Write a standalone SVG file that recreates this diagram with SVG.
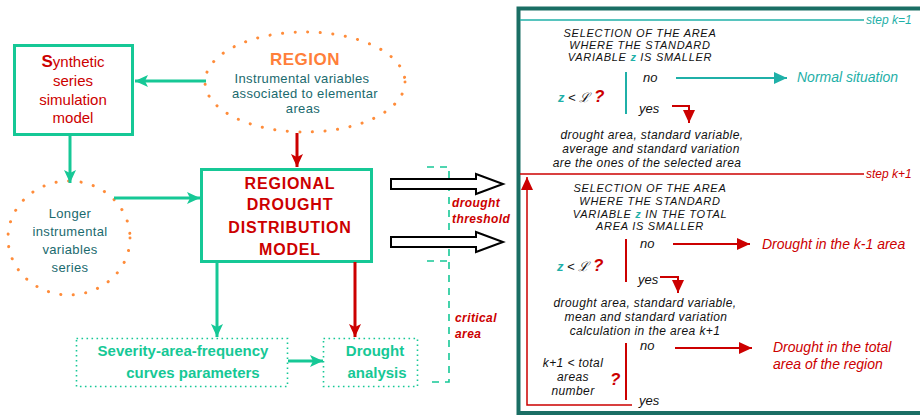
<svg xmlns="http://www.w3.org/2000/svg" width="920" height="418" viewBox="0 0 920 418">
<style>
text{font-family:"Liberation Sans",Arial,sans-serif}
.tl{stroke:#16c896;stroke-width:3;fill:none}
.rd{stroke:#cc0000;stroke-width:3;fill:none}
.dotor{stroke:#ff8c3a;stroke-width:3;fill:none;stroke-dasharray:0.1 12.5;stroke-linecap:round}
.dotbox{stroke:#16c896;stroke-width:1.6;fill:none;stroke-dasharray:1.6 3.4}
.dash{stroke:#16c896;stroke-width:1.6;fill:none;stroke-dasharray:7 6}
.rtxt{fill:#cc0000;font-size:15px;text-anchor:middle}
.dtxt{fill:#1a6a6e;font-size:13px;text-anchor:middle;letter-spacing:0.35px}
.big{fill:#cc0000;font-size:16px;font-weight:bold;text-anchor:middle;letter-spacing:0.8px}
.gtxt{fill:#16c896;font-size:15px;font-weight:bold;text-anchor:middle}
.smr{fill:#cc0000;font-size:12px;font-weight:bold;font-style:italic;letter-spacing:0.4px}
.cap{fill:#111;font-size:11px;font-style:italic;text-anchor:middle;letter-spacing:0.7px}
.it{fill:#111;font-size:13px;font-style:italic}
.itc{fill:#111;font-size:12px;font-style:italic;text-anchor:middle;letter-spacing:0.4px}
.res{font-size:14px;font-style:italic}
.hol{fill:#fff;stroke:#000;stroke-width:2}
</style>
<defs>
<marker id="ahT" markerUnits="userSpaceOnUse" markerWidth="14" markerHeight="14" refX="13" refY="7" orient="auto"><path d="M0,1 L13,7 L0,13 L3,7 z" fill="#16c896"/></marker>
<marker id="ahR" markerUnits="userSpaceOnUse" markerWidth="14" markerHeight="14" refX="13" refY="7" orient="auto"><path d="M0,1 L13,7 L0,13 L3,7 z" fill="#cc0000"/></marker>
<marker id="ahC" markerUnits="userSpaceOnUse" markerWidth="14" markerHeight="14" refX="13" refY="7" orient="auto"><path d="M0,1 L13,7 L0,13 z" fill="#1fb0a8"/></marker>
<marker id="ahR2" markerUnits="userSpaceOnUse" markerWidth="14" markerHeight="14" refX="13" refY="7" orient="auto"><path d="M0,1 L13,7 L0,13 z" fill="#cc0000"/></marker>
<clipPath id="leftclip"><rect x="0" y="0" width="516" height="418"/></clipPath>
</defs>
<rect x="0" y="0" width="920" height="418" fill="#fff"/>

<g id="synthetic">
<rect x="14.5" y="45.5" width="118" height="89" class="tl"/>
<text class="rtxt" x="73" y="67"><tspan font-weight="bold" font-size="17">S</tspan>ynthetic</text>
<text class="rtxt" x="73" y="86">series</text>
<text class="rtxt" x="73" y="105">simulation</text>
<text class="rtxt" x="73" y="123">model</text>
</g>

<g id="region">
<ellipse cx="305" cy="82" rx="100" ry="50" class="dotor"/>
<text x="305" y="65" fill="#ff7f3a" font-size="17" font-weight="bold" text-anchor="middle" letter-spacing="0.5">REGION</text>
<text class="dtxt" x="302" y="83">Instrumental variables</text>
<text class="dtxt" x="305" y="98">associated to elementar</text>
<text class="dtxt" x="303" y="113">areas</text>
</g>

<g id="longer">
<ellipse cx="69" cy="238" rx="61" ry="57" class="dotor"/>
<text class="dtxt" x="70" y="218">Longer</text>
<text class="dtxt" x="70" y="236">instrumental</text>
<text class="dtxt" x="70" y="254">variables</text>
<text class="dtxt" x="70" y="272">series</text>
</g>

<g id="regional">
<rect x="201.5" y="169.5" width="170" height="92" class="tl"/>
<text class="big" x="290" y="189">REGIONAL</text>
<text class="big" x="290" y="210">DROUGHT</text>
<text class="big" x="290" y="233">DISTRIBUTION</text>
<text class="big" x="290" y="255">MODEL</text>
</g>

<g id="severity">
<rect x="76.5" y="338.5" width="211" height="48" class="dotbox"/>
<text class="gtxt" x="183" y="356">Severity-area-frequency</text>
<text class="gtxt" x="193" y="378">curves parameters</text>
</g>

<g id="analysis">
<rect x="323.5" y="338.5" width="94" height="48" class="dotbox"/>
<text class="gtxt" x="375" y="356">Drought</text>
<text class="gtxt" x="377" y="378">analysis</text>
</g>

<g id="bracket">
<polyline points="427,167 449,167 449,382 427,382" class="dash"/>
<line x1="427" y1="261" x2="449" y2="261" class="dash"/>
<g clip-path="url(#leftclip)">
<text class="smr" x="452" y="207">drought</text>
<text class="smr" x="452" y="223">threshold</text>
</g>
<text class="smr" x="455" y="322">critical</text>
<text class="smr" x="455" y="338">area</text>
</g>

<g id="connectors">
<line x1="206" y1="81" x2="135" y2="81" class="tl" marker-end="url(#ahT)"/>
<line x1="297" y1="133" x2="297" y2="167" class="rd" marker-end="url(#ahR)"/>
<line x1="70" y1="135" x2="70" y2="183" class="tl" marker-end="url(#ahT)"/>
<line x1="114" y1="198" x2="200" y2="198" class="tl" marker-end="url(#ahT)"/>
<line x1="217" y1="262" x2="217" y2="337" class="tl" marker-end="url(#ahT)"/>
<line x1="355" y1="262" x2="355" y2="337" class="rd" marker-end="url(#ahR)"/>
<line x1="288" y1="361" x2="323" y2="361" class="tl" marker-end="url(#ahT)"/>
<polygon class="hol" points="391,179 476,179 476,174 503,184 476,194 476,189 391,189"/>
<polygon class="hol" points="391,237 476,237 476,232 503,242 476,252 476,247 391,247"/>
</g>

<g id="panel">
<rect x="518.5" y="8.5" width="410" height="404.5" fill="none" stroke="#1a6e64" stroke-width="4"/>
<line x1="520" y1="20" x2="864" y2="20" stroke="#1fb0a8" stroke-width="1.5"/>
<text x="866" y="24" fill="#1fb0a8" font-size="12" font-style="italic">step k=1</text>
<line x1="520" y1="174" x2="864" y2="174" stroke="#cc0000" stroke-width="1.5"/>
<text x="866" y="178" fill="#cc0000" font-size="12" font-style="italic">step k+1</text>
</g>

<g id="step1">
<text class="cap" x="640" y="37">SELECTION OF THE AREA</text>
<text class="cap" x="640" y="49">WHERE THE STANDARD</text>
<text class="cap" x="640" y="61">VARIABLE <tspan fill="#1fb0a8" font-weight="bold">z</tspan> IS SMALLER</text>
<line x1="626" y1="72" x2="626" y2="114" stroke="#1fb0a8" stroke-width="2"/>
<text class="it" x="643" y="82">no</text>
<line x1="676" y1="78" x2="787" y2="78" stroke="#1fb0a8" stroke-width="2" marker-end="url(#ahC)"/>
<text class="res" x="797" y="82" fill="#1fb0a8">Normal situation</text>
<text class="it" x="558" y="102"><tspan fill="#1fb0a8" font-weight="bold">z</tspan> &lt; ℒ <tspan fill="#cc0000" font-weight="bold" font-size="17">?</tspan></text>
<text class="it" x="639" y="113">yes</text>
<polyline points="672,106 689,106 689,123" fill="none" stroke="#cc0000" stroke-width="2" marker-end="url(#ahR2)"/>
<text class="itc" x="652" y="139">drought area, standard variable,</text>
<text class="itc" x="651" y="153">average and standard variation</text>
<text class="itc" x="647" y="167">are the ones of the selected area</text>
</g>

<g id="step2">
<polyline points="632,405 527,405 527,177" fill="none" stroke="#cc0000" stroke-width="1.5" marker-end="url(#ahR2)"/>
<text class="cap" x="650" y="192">SELECTION OF THE AREA</text>
<text class="cap" x="650" y="205">WHERE THE STANDARD</text>
<text class="cap" x="650" y="218">VARIABLE <tspan fill="#1fb0a8" font-weight="bold">z</tspan> IN THE TOTAL</text>
<text class="cap" x="650" y="230">AREA IS SMALLER</text>
<line x1="626" y1="239" x2="626" y2="282" stroke="#cc0000" stroke-width="2"/>
<text class="it" x="640" y="248">no</text>
<line x1="673" y1="244" x2="750" y2="244" stroke="#cc0000" stroke-width="2" marker-end="url(#ahR2)"/>
<text class="res" x="762" y="249" fill="#cc0000">Drought in the k-1 area</text>
<text class="it" x="557" y="271"><tspan fill="#1fb0a8" font-weight="bold">z</tspan> &lt; ℒ <tspan fill="#cc0000" font-weight="bold" font-size="17">?</tspan></text>
<text class="it" x="638" y="284">yes</text>
<polyline points="660,277 678,277 678,293" fill="none" stroke="#cc0000" stroke-width="2" marker-end="url(#ahR2)"/>
<text class="itc" x="645" y="307">drought area, standard variable,</text>
<text class="itc" x="646" y="321">mean and standard variation</text>
<text class="itc" x="645" y="335">calculation in the area k+1</text>
<line x1="626" y1="343" x2="626" y2="400" stroke="#cc0000" stroke-width="2"/>
<text class="it" x="640" y="350">no</text>
<line x1="675" y1="348" x2="752" y2="348" stroke="#cc0000" stroke-width="2" marker-end="url(#ahR2)"/>
<text class="res" x="773" y="352" fill="#cc0000">Drought in the total</text>
<text class="res" x="773" y="369" fill="#cc0000">area of the region</text>
<text class="itc" x="573" y="367">k+1 &lt; total</text>
<text class="itc" x="573" y="381">areas</text>
<text class="itc" x="573" y="395">number</text>
<text x="610" y="385" fill="#cc0000" font-size="17" font-weight="bold" font-style="italic">?</text>
<text class="it" x="639" y="405">yes</text>
</g>
</svg>
